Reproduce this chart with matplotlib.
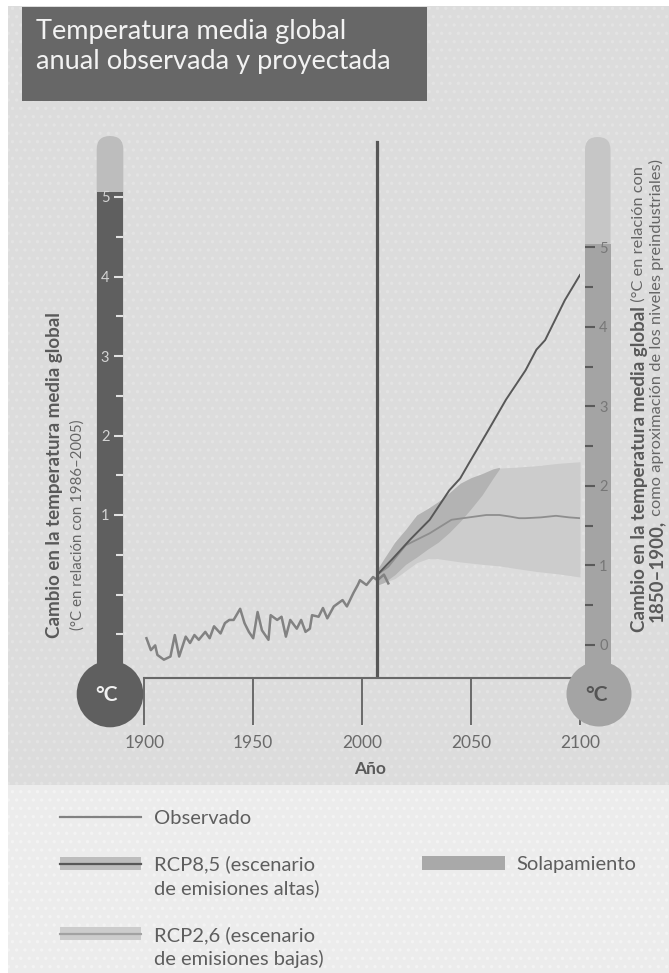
import matplotlib
matplotlib.use('Agg')
import matplotlib.pyplot as plt
import matplotlib.transforms as mtransforms
from matplotlib.patches import Rectangle, Circle, FancyBboxPatch
from matplotlib.lines import Line2D
from matplotlib import font_manager as fm

W, H = 669, 973
names = {f.name for f in fm.fontManager.ttflist}
FONT = 'Lato' if 'Lato' in names else 'DejaVu Sans'
plt.rcParams['font.family'] = [FONT, 'DejaVu Sans']
plt.rcParams['hatch.linewidth'] = 1.2

# ---------------- data ----------------
obs_years = [1901, 1903, 1905, 1906, 1909, 1912, 1914, 1916, 1919, 1921, 1923, 1925,
             1928, 1930, 1932, 1935, 1937, 1939, 1941, 1944, 1946, 1948, 1950, 1952,
             1954, 1957, 1958, 1961, 1963, 1965, 1967, 1970, 1972, 1974, 1976, 1977,
             1980, 1982, 1984, 1987, 1989, 1991, 1993, 1996, 1998, 1999, 2002, 2005,
             2007, 2010, 2012]
obs_vals = [-0.55, -0.70, -0.64, -0.76, -0.82, -0.78, -0.51, -0.78, -0.53, -0.61, -0.51, -0.57,
            -0.47, -0.55, -0.40, -0.49, -0.36, -0.32, -0.32, -0.18, -0.36, -0.47, -0.55, -0.22,
            -0.45, -0.57, -0.26, -0.32, -0.28, -0.53, -0.32, -0.43, -0.32, -0.47, -0.43, -0.26,
            -0.28, -0.17, -0.30, -0.15, -0.11, -0.07, -0.15, 0.02, 0.12, 0.18, 0.12, 0.22,
            0.18, 0.25, 0.14]

rcp85_years = [2007, 2014, 2022, 2031, 2040, 2045, 2049, 2058, 2066, 2075, 2080, 2084, 2093, 2100]
rcp85_vals = [0.25, 0.45, 0.69, 0.94, 1.31, 1.46, 1.65, 2.07, 2.45, 2.82, 3.08, 3.20, 3.70, 4.02]

rcp26_years = [2007, 2012, 2020, 2031, 2041, 2049, 2057, 2063, 2068, 2072, 2075, 2082, 2089, 2095, 2100]
rcp26_vals = [0.25, 0.35, 0.62, 0.77, 0.94, 0.97, 1.00, 1.00, 0.98, 0.96, 0.96, 0.97, 0.99, 0.97, 0.96]

rcp26_band_years = [2007, 2015, 2020, 2025, 2030, 2035, 2045, 2055, 2063, 2070, 2080, 2090, 2100]
rcp26_band_hi = [0.30, 0.60, 0.75, 0.90, 1.00, 1.10, 1.30, 1.45, 1.59, 1.60, 1.62, 1.65, 1.67]
rcp26_band_lo = [0.12, 0.20, 0.30, 0.40, 0.45, 0.45, 0.41, 0.38, 0.36, 0.33, 0.29, 0.26, 0.22]

overlap_years = [2007, 2010, 2015, 2020, 2025, 2030, 2035, 2040, 2045, 2050, 2055, 2060, 2063]
overlap_hi = [0.32, 0.45, 0.66, 0.82, 1.00, 1.08, 1.17, 1.28, 1.40, 1.47, 1.52, 1.58, 1.60]
overlap_lo = [0.12, 0.15, 0.25, 0.38, 0.47, 0.57, 0.66, 0.78, 0.92, 1.08, 1.25, 1.46, 1.58]

split_year = 2007
preind_offset = 0.635

x_ticks = [1900, 1950, 2000, 2050, 2100]
left_major = [1, 2, 3, 4, 5]
left_minor = [-0.5, 0, 0.5, 1.5, 2.5, 3.5, 4.5]
right_major = [0, 1, 2, 3, 4, 5]
right_minor = [0.5, 1.5, 2.5, 3.5, 4.5]

title_lines = ['Temperatura media global', 'anual observada y proyectada']
xlabel = 'Año'
left_label_bold = 'Cambio en la temperatura media global'
left_label_reg = '(°C en relación con 1986–2005)'
right_l1_bold = 'Cambio en la temperatura media global'
right_l1_reg = ' (°C en relación con'
right_l2_bold = '1850–1900,'
right_l2_reg = ' como aproximación de los niveles preindustriales)'
legend_labels = ['Observado', 'RCP8,5 (escenario\nde emisiones altas)',
                 'RCP2,6 (escenario\nde emisiones bajas)', 'Solapamiento']

# ---------------- colours ----------------
BG = '#dcdcdc'
BG_LEG = '#ececec'
C_OBS = '#828282'
C_85 = '#585858'
C_26 = '#8e8e8e'
C_BAND26 = '#cccccc'
C_OVER = '#b3b3b3'
C_DARK = '#5f5f5f'
C_DARK_TOP = '#bdbdbd'
C_MID = '#a4a4a4'
C_MID_TOP = '#c6c6c6'

fig = plt.figure(figsize=(W / 100, H / 100), dpi=100)
fig.patch.set_facecolor('white')
px = mtransforms.Affine2D().scale(1 / W, -1 / H).translate(0, 1) + fig.transFigure

# backgrounds (with faint dot texture)
fig.add_artist(Rectangle((8, 6), W - 8, 779, transform=px, fc=BG, ec='#e3e3e3', lw=0,
                         hatch='..', zorder=-5))
fig.add_artist(Rectangle((8, 785), W - 8, H - 785, transform=px, fc=BG_LEG, ec='#f3f3f3', lw=0,
                         hatch='..', zorder=-5))

# title box
fig.add_artist(Rectangle((22, 7), 405, 94, transform=px, fc='#676767', ec='none', zorder=-4))
fig.text(36, 39, title_lines[0], transform=px, fontsize=19.5, color='#f2f2f2', va='baseline')
fig.text(36, 69, title_lines[1], transform=px, fontsize=19.5, color='#f2f2f2', va='baseline')

# ---------------- axes geometry (pixels) ----------------
X0, X1 = 144.3, 580.0        # 1900, 2100
Y_AX = 678.3                 # x-axis line
Y_TOP = 136.0
Y0, PPU = 594.5, 79.5        # y pixel of 0 (left scale), pixels per degree
ylo = (Y0 - Y_AX) / PPU
yhi = (Y0 - Y_TOP) / PPU
ax = fig.add_axes([X0 / W, 1 - Y_AX / H, (X1 - X0) / W, (Y_AX - Y_TOP) / H])
ax.set_xlim(1900, 2100)
ax.set_ylim(ylo, yhi)
ax.patch.set_alpha(0)
for s in ['top', 'right', 'left']:
    ax.spines[s].set_visible(False)
ax.spines['bottom'].set_color('#686868')
ax.spines['bottom'].set_linewidth(1.5)

# x ticks
ax.set_xticks(x_ticks)
ax.set_xticklabels([str(t) for t in x_ticks])
ax.tick_params(axis='x', direction='out', length=34, width=1.4, color='#6a6a6a',
               pad=7, labelsize=12.5, labelcolor='#6a6a6a')
ax.set_xlabel(xlabel, fontsize=12.5, fontweight='bold', color='#5a5a5a')
ax.xaxis.set_label_coords((370 - X0) / (X1 - X0), (Y_AX - 761) / (Y_AX - Y_TOP))

# left thermometer axis
ax.spines['left'].set_position(('axes', (123.3 - X0) / (X1 - X0)))
ax.set_yticks(left_major)
ax.set_yticks(left_minor, minor=True)
ax.set_yticklabels([str(v) for v in left_major])
ax.tick_params(axis='y', which='major', direction='out', length=6.5, width=1.5,
               color='#e2e2e2', pad=3.5, labelsize=10.5, labelcolor='#d4d4d4')
ax.tick_params(axis='y', which='minor', direction='out', length=5, width=1.5, color='#e2e2e2')

# right thermometer axis
ax2 = ax.twinx()
ax2.set_ylim(ylo + preind_offset, yhi + preind_offset)
for s in ['top', 'left', 'bottom', 'right']:
    ax2.spines[s].set_visible(False)
ax2.spines['right'].set_position(('axes', (585 - X0) / (X1 - X0)))
ax2.set_yticks(right_major)
ax2.set_yticks(right_minor, minor=True)
ax2.set_yticklabels([str(v) for v in right_major])
ax2.tick_params(axis='y', which='major', direction='out', length=7.2, width=1.5,
                color='#5a5a5a', pad=3, labelsize=10.5, labelcolor='#777777')
ax2.tick_params(axis='y', which='minor', direction='out', length=5.8, width=1.5, color='#5a5a5a')

# thermometers (decoration, pixel coordinates)
def tube(xl, w, ytop, ysplit, ybulb, ctop, cbot, bx, by, r, txtcol):
    ax.add_patch(FancyBboxPatch((xl, ytop), w, ybulb - ytop,
                                boxstyle='round,pad=0,rounding_size=%f' % (w / 2),
                                transform=px, fc=ctop, ec='none', clip_on=False, zorder=1))
    ax.add_patch(Rectangle((xl, ysplit), w, ybulb - ysplit, transform=px, fc=cbot,
                           ec='none', clip_on=False, zorder=1.1))
    ax.add_patch(Circle((bx, by), r, transform=px, fc=cbot, ec='none', clip_on=False, zorder=3))
    ax.text(bx - 3, by + 1, '°C', transform=px, fontsize=15, fontweight='bold',
            color=txtcol, ha='center', va='center', zorder=4, clip_on=False)

tube(96.7, 26.6, 136, 192, 680, C_DARK_TOP, C_DARK, 110, 694, 33.3, '#f0f0f0')
tube(585, 25.5, 137, 244, 680, C_MID_TOP, C_MID, 599, 694, 32.5, '#555555')

# ---------------- data marks ----------------
ax.fill_between(rcp26_band_years, rcp26_band_lo, rcp26_band_hi, color=C_BAND26, lw=0, zorder=1.3)
ax.fill_between(overlap_years, overlap_lo, overlap_hi, color=C_OVER, lw=0, zorder=1.4)
ax.plot(rcp26_years, rcp26_vals, color=C_26, lw=1.3, zorder=2)
ax.plot(rcp85_years, rcp85_vals, color=C_85, lw=1.4, zorder=2.1)
ax.plot(obs_years, obs_vals, color=C_OBS, lw=1.8, zorder=2.2, solid_joinstyle='round')
ax.axvline(split_year, ymin=0, ymax=(Y_AX - 142) / (Y_AX - Y_TOP), color='#575757', lw=2.3, zorder=2.4)

# ---------------- axis titles ----------------
fig.text(55, 638, left_label_bold, transform=px, rotation=90, ha='center', va='bottom',
         fontsize=13.5, fontweight='bold', color='#595959')
fig.text(78, 630, left_label_reg, transform=px, rotation=90, ha='center', va='bottom',
         fontsize=10.8, color='#666666')

r1 = fig.text(639, 632, right_l1_bold, transform=px, rotation=90, ha='center', va='bottom',
              fontsize=13.5, fontweight='bold', color='#595959')
fig.add_artist(plt.Annotation(right_l1_reg, xy=(0.5, 1), xycoords=r1, rotation=90, ha='center',
                              va='bottom', fontsize=11.8, color='#666666'))
r2 = fig.text(656, 622, right_l2_bold, transform=px, rotation=90, ha='center', va='bottom',
              fontsize=13.5, fontweight='bold', color='#595959')
fig.add_artist(plt.Annotation(right_l2_reg, xy=(0.5, 1), xycoords=r2, rotation=90, ha='center',
                              va='bottom', fontsize=11.8, color='#666666'))

# ---------------- legend ----------------
LX0, LX1 = 60, 141
fig.add_artist(Line2D([LX0, LX1], [817, 817], transform=px, color=C_OBS, lw=1.6))
fig.text(154, 823.5, legend_labels[0], transform=px, fontsize=14.5, color='#5e5e5e', va='baseline')

fig.add_artist(Rectangle((LX0, 857), LX1 - LX0, 13, transform=px, fc='#bdbdbd', ec='none'))
fig.add_artist(Line2D([LX0, LX1], [863.5, 863.5], transform=px, color=C_85, lw=1.6))
l85 = legend_labels[1].split('\n')
fig.text(154, 870, l85[0], transform=px, fontsize=14.5, color='#5e5e5e', va='baseline')
fig.text(154, 894, l85[1], transform=px, fontsize=14.5, color='#5e5e5e', va='baseline')

fig.add_artist(Rectangle((LX0, 927), LX1 - LX0, 13, transform=px, fc=C_BAND26, ec='none'))
fig.add_artist(Line2D([LX0, LX1], [933.5, 933.5], transform=px, color='#a2a2a2', lw=1.6))
l26 = legend_labels[2].split('\n')
fig.text(154, 941, l26[0], transform=px, fontsize=14.5, color='#5e5e5e', va='baseline')
fig.text(154, 965, l26[1], transform=px, fontsize=14.5, color='#5e5e5e', va='baseline')

fig.add_artist(Rectangle((422, 856), 83, 14, transform=px, fc='#a9a9a9', ec='none'))
fig.text(516, 870, legend_labels[3], transform=px, fontsize=14.5, color='#5e5e5e', va='baseline')

fig.savefig('out.png', dpi=100, facecolor=fig.get_facecolor())
